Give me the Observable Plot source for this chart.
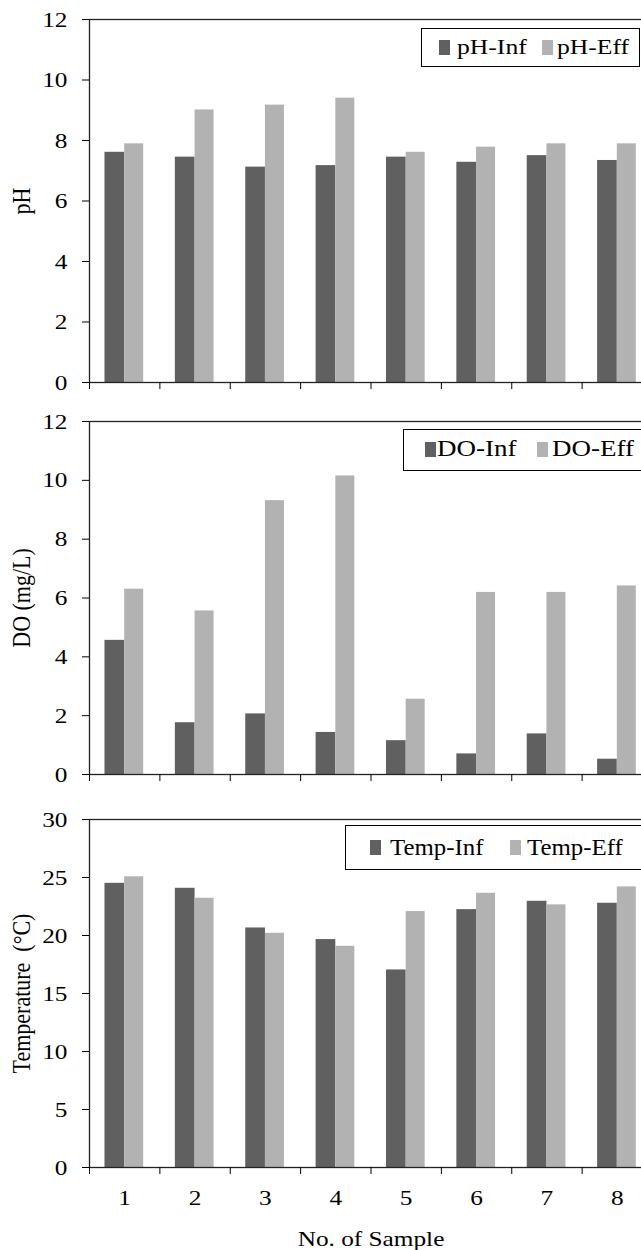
<!DOCTYPE html>
<html><head><meta charset="utf-8">
<script src="https://cdn.jsdelivr.net/npm/d3@7"></script>
<script src="https://cdn.jsdelivr.net/npm/@observablehq/plot@0.6"></script>
<style>
html,body{margin:0;padding:0;overflow:hidden;background:#fff;}
body{font-family:"Liberation Serif",serif;width:641px;}
.panel{position:relative;width:641px;overflow:hidden;}
.panel svg{display:block;max-width:none !important;}
.legend{position:absolute;border:1.5px solid #000;background:#fff;box-sizing:border-box;color:#000;white-space:nowrap;}
.legend .sw{position:absolute;width:11px;height:15px;}
.legend .lbl{position:absolute;transform-origin:left center;line-height:1;}
</style></head><body><div id="chart"></div>
<script>
const samples = [1, 2, 3, 4, 5, 6, 7, 8];
const sampleBounds = [0.5, 1.5, 2.5, 3.5, 4.5, 5.5, 6.5, 7.5, 8.5];

const phSeries = ["pH-Inf", "pH-Eff"];
const phInf = [7.61, 7.45, 7.12, 7.17, 7.45, 7.28, 7.50, 7.34];
const phEff = [7.89, 9.01, 9.17, 9.40, 7.61, 7.78, 7.89, 7.89];
const phTicks = [0, 2, 4, 6, 8, 10, 12];

const doSeries = ["DO-Inf", "DO-Eff"];
const doInf = [4.56, 1.76, 2.06, 1.43, 1.15, 0.70, 1.38, 0.52];
const doEff = [6.30, 5.56, 9.31, 10.15, 2.56, 6.19, 6.19, 6.41];
const doTicks = [0, 2, 4, 6, 8, 10, 12];

const tempSeries = ["Temp-Inf", "Temp-Eff"];
const tempInf = [24.5, 24.07, 20.65, 19.65, 17.03, 22.23, 22.95, 22.78];
const tempEff = [25.06, 23.21, 20.19, 19.07, 22.06, 23.64, 22.64, 24.19];
const tempTicks = [0, 5, 10, 15, 20, 25, 30];

const colors = ["#606060", "#b2b2b2"];
const textStretch = 1.15;

function stretchText(svg) {
  svg.querySelectorAll("text").forEach(t => {
    const tr = t.getAttribute("transform") || "";
    const rot = /rotate/.test(tr);
    const sc = rot ? `scale(1,${textStretch})` : `scale(${textStretch},1)`;
    t.setAttribute("transform", `${tr} ${sc}`);
  });
}

function panel(cfg) {
  const rows = samples.flatMap((s, i) => [
    {sample: s, series: cfg.names[0], value: cfg.inf[i], k: 0},
    {sample: s, series: cfg.names[1], value: cfg.eff[i], k: 1}
  ]);
  const marks = [
    Plot.rectY(rows, {
      x1: d => d.sample + (d.k ? 0 : -0.28),
      x2: d => d.sample + (d.k ? 0.27 : 0),
      y: "value",
      fill: "series"
    }),
    Plot.frame({stroke: "#222", strokeWidth: 1.3}),
    Plot.axisY({ticks: cfg.yTicks, tickSize: 7, tickPadding: 15, stroke: "#000",
      label: cfg.yLabel, labelAnchor: "center", labelArrow: "none", labelOffset: 77}),
    Plot.axisX({ticks: sampleBounds, tickSize: 7, tickFormat: () => "", stroke: "#000", label: null})
  ];
  if (cfg.showX) {
    marks.push(Plot.axisX({ticks: samples, tickSize: 0, tickPadding: 22, tickFormat: d => String(d),
      label: "No. of Sample", labelAnchor: "center", labelArrow: "none", labelOffset: 78}));
  }
  const svg = Plot.plot({
    width: 652, height: cfg.height,
    marginLeft: 89, marginRight: 0, marginTop: cfg.marginTop, marginBottom: cfg.marginBottom,
    style: {fontFamily: "'Liberation Serif', serif", fontSize: "22px", color: "#000",
      background: "transparent", maxWidth: "none", height: cfg.height + "px"},
    x: {type: "linear", domain: [0.5, 8.5]},
    y: {domain: cfg.yDomain},
    color: {domain: cfg.names, range: colors},
    marks
  });
  stretchText(svg);
  const wrap = document.createElement("div");
  wrap.className = "panel";
  wrap.style.height = cfg.height + "px";
  wrap.appendChild(svg);
  const L = cfg.legend;
  const lg = document.createElement("div");
  lg.className = "legend";
  Object.assign(lg.style, {left: L.left + "px", top: L.top + "px",
    width: L.width + "px", height: L.height + "px", fontSize: L.font + "px"});
  cfg.names.forEach((n, i) => {
    const sw = document.createElement("span");
    sw.className = "sw";
    Object.assign(sw.style, {left: L.sw[i] + "px", top: ((L.height - 3 - 15) / 2) + "px", background: colors[i]});
    const lb = document.createElement("span");
    lb.className = "lbl";
    lb.textContent = n;
    Object.assign(lb.style, {left: L.tx[i] + "px", top: ((L.height - 3 - L.font) / 2) + "px",
      transform: `scaleX(${L.scale})`});
    lg.appendChild(sw);
    lg.appendChild(lb);
  });
  wrap.appendChild(lg);
  return wrap;
}

const root = document.getElementById("chart");
root.appendChild(panel({names: phSeries, inf: phInf, eff: phEff, yTicks: phTicks, yDomain: [0, 12],
  yLabel: "pH", height: 400, marginTop: 19, marginBottom: 18, showX: false,
  legend: {left: 421, top: 28, width: 219, height: 39, font: 21, scale: 1.22, sw: [17, 120], tx: [35, 135]}}));
root.appendChild(panel({names: doSeries, inf: doInf, eff: doEff, yTicks: doTicks, yDomain: [0, 12],
  yLabel: "DO (mg/L)", height: 400, marginTop: 21, marginBottom: 26, showX: false,
  legend: {left: 403, top: 29, width: 250, height: 42, font: 22.5, scale: 1.2, sw: [21, 133], tx: [33, 148]}}));
root.appendChild(panel({names: tempSeries, inf: tempInf, eff: tempEff, yTicks: tempTicks, yDomain: [0, 30],
  yLabel: "Temperature  (°C)", height: 450, marginTop: 19, marginBottom: 83, showX: true,
  legend: {left: 345, top: 25, width: 310, height: 45, font: 23, scale: 1.08, sw: [24, 164], tx: [44, 181]}}));
</script></body></html>
